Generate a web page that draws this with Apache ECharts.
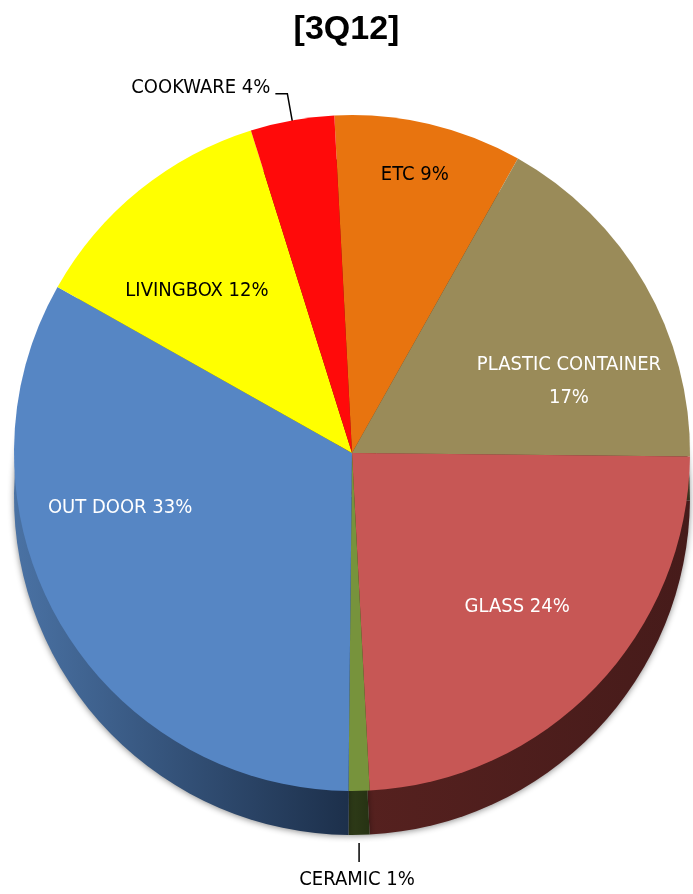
<!DOCTYPE html>
<html>
<head>
<meta charset="utf-8">
<script src="https://cdn.jsdelivr.net/npm/echarts@6/dist/echarts.min.js"></script>
<style>
  html, body { margin: 0; padding: 0; background: #ffffff; }
  #chart { width: 693px; height: 894px; }
</style>
</head>
<body>
<div id="chart"></div>
<script>
// Product mix, 3Q12 (share of sales, %)
const categories = ['ETC', 'PLASTIC CONTAINER', 'GLASS', 'CERAMIC', 'OUT DOOR', 'LIVINGBOX', 'COOKWARE'];
const shares = [9, 17, 24, 1, 33, 12, 4];

// face and side colours of each slice
const faceColors = ['#E8740F', '#9A8B59', '#C75755', '#77933C', '#5686C4', '#FFFF00', '#FF0A0A'];
const sideColors = [
  ['#7a3c08', '#5c2d06'],
  ['#55492c', '#3d341f'],
  ['#56211f', '#461b1a'],
  ['#2f3c18', '#263213'],
  ['#4a72a4', '#1c2f4a'],
  ['#7a7a00', '#5c5c00'],
  ['#7a0505', '#5c0404']
];
const labelColors = ['#000', '#fff', '#fff', '#000', '#fff', '#000', '#000'];

// label placement: [radius fraction, angle in degrees] for inside labels; null = outside with leader line
const labelPolar = [[0.845, 77.3], [0.676, 18.3], [0.668, -43.0], null, [0.705, 193.3], [0.664, 133.7], null];

const CX = 352, CY = 453, R = 338, DEPTH = 44, START = 93;
const LABEL_FONT = '"Liberation Sans Narrow", "DejaVu Sans Condensed", Roboto, sans-serif';

function midAngle(i) {
  let cum = 0;
  for (let k = 0; k < i; k++) cum += shares[k];
  return START - (cum + shares[i] / 2) * 3.6;
}
function polar(frac, deg, cy) {
  const a = deg * Math.PI / 180;
  return [CX + frac * R * Math.cos(a), (cy === undefined ? CY : cy) - frac * R * Math.sin(a)];
}

const sideData = categories.map((name, i) => ({
  name, value: shares[i],
  itemStyle: {
    color: {
      type: 'linear', x: 0, y: 0, x2: 1, y2: 0,
      colorStops: [{ offset: 0, color: sideColors[i][0] }, { offset: 1, color: sideColors[i][1] }]
    }
  }
}));

const faceData = categories.map((name, i) => ({
  name, value: shares[i],
  itemStyle: { color: faceColors[i] },
  label: {
    position: labelPolar[i] ? 'inside' : 'outside',
    color: labelColors[i],
    formatter: name === 'PLASTIC CONTAINER' ? '{b}\n{c}%' : '{b} {c}%'
  },
  labelLine: { show: labelPolar[i] === null }
}));

const chart = echarts.init(document.getElementById('chart'), null, { renderer: 'canvas' });
chart.setOption({
  backgroundColor: '#ffffff',
  animation: false,
  title: {
    text: '[3Q12]',
    left: 'center',
    top: 8,
    textStyle: { fontFamily: '"Liberation Sans", Arial, sans-serif', fontWeight: 'bold', fontSize: 34, color: '#000' }
  },
  series: [
    {
      // side wall of the disc
      type: 'pie',
      silent: true,
      z: 1,
      center: [CX, CY + DEPTH],
      radius: R,
      startAngle: START,
      clockwise: true,
      label: { show: false },
      labelLine: { show: false },
      itemStyle: { borderWidth: 0, shadowBlur: 6, shadowColor: 'rgba(0,0,0,0.45)', shadowOffsetY: 1 },
      data: sideData
    },
    {
      // top face
      type: 'pie',
      z: 2,
      center: [CX, CY],
      radius: R,
      startAngle: START,
      clockwise: true,
      avoidLabelOverlap: false,
      itemStyle: { borderWidth: 0 },
      label: {
        show: true,
        overflow: 'none',
        fontFamily: LABEL_FONT,
        fontSize: 20,
        lineHeight: 33
      },
      labelLine: { show: true, lineStyle: { color: '#000', width: 1.5 } },
      labelLayout: function (p) {
        const i = p.dataIndex;
        const lp = labelPolar[i];
        if (lp) {
          const pt = polar(lp[0], lp[1]);
          return { x: pt[0], y: pt[1], align: 'center', verticalAlign: 'middle', hideOverlap: false };
        }
        const mid = midAngle(i);
        if (categories[i] === 'COOKWARE') {
          const a = polar(0.985, mid);
          const b = polar(1.08, mid);
          const c = [b[0] - 12, b[1]];
          return {
            x: c[0] - 5, y: b[1] - 6, align: 'right', verticalAlign: 'middle', hideOverlap: false,
            labelLinePoints: [a, b, c]
          };
        }
        // label below the disc
        const a = polar(1, mid, CY + DEPTH + 8);
        const b = [a[0], a[1] + 19];
        return {
          x: a[0] - 2, y: b[1] + 18, align: 'center', verticalAlign: 'middle', hideOverlap: false,
          labelLinePoints: [a, b, b]
        };
      },
      data: faceData
    }
  ]
});
</script>
</body>
</html>
